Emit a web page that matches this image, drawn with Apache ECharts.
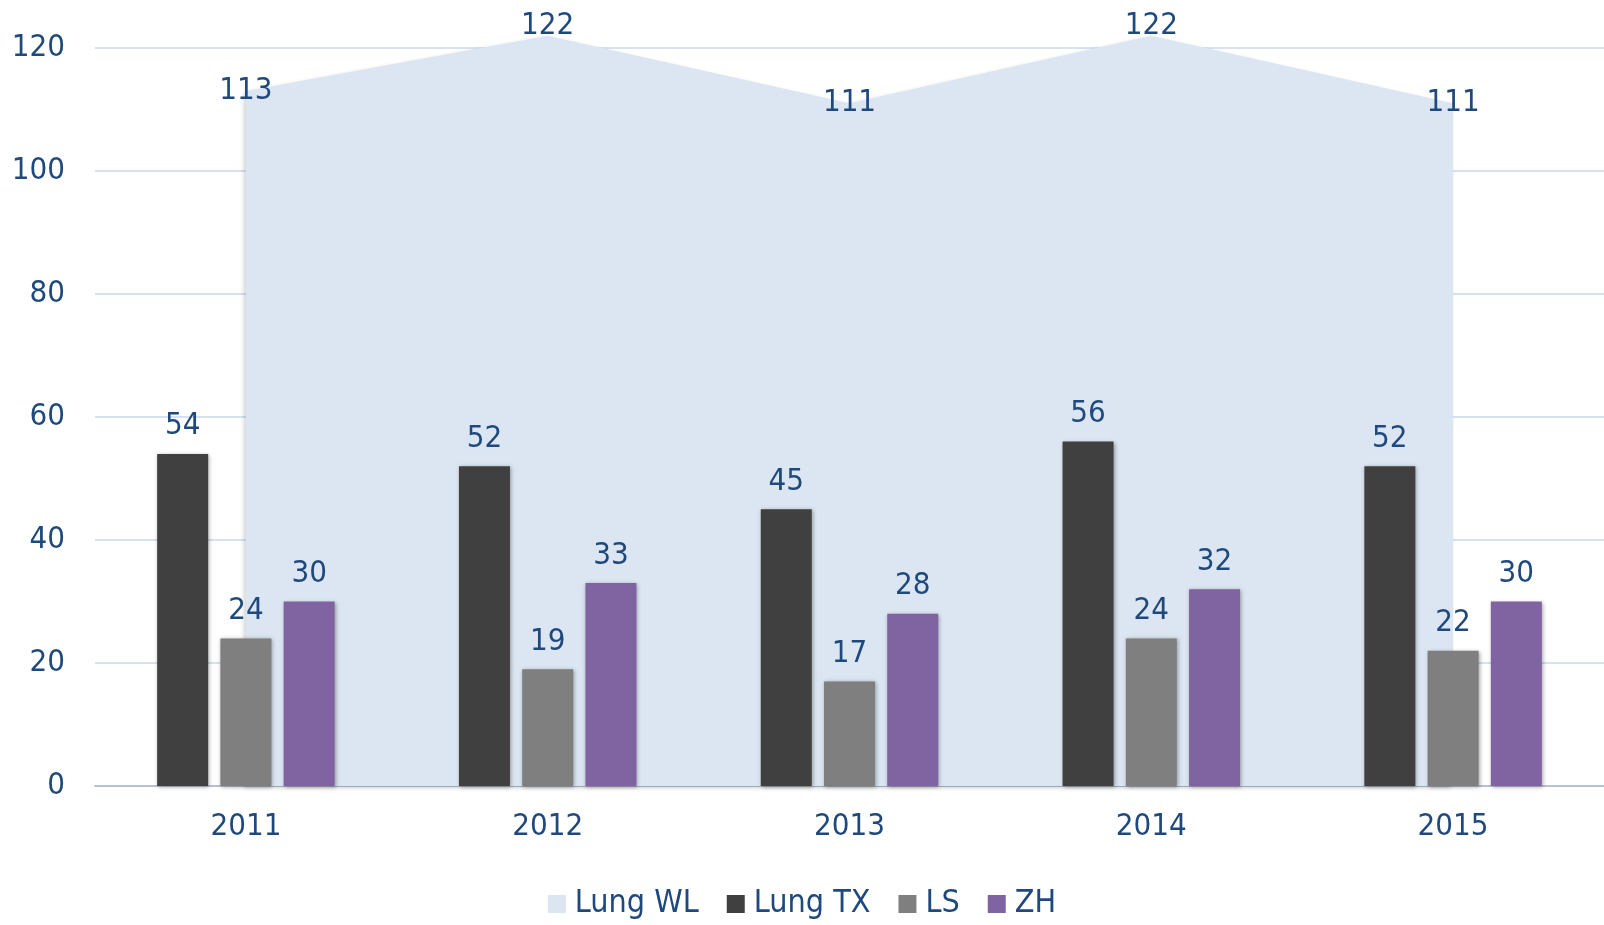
<!DOCTYPE html>
<html>
<head>
<meta charset="utf-8">
<script src="https://cdn.jsdelivr.net/npm/echarts@6/dist/echarts.min.js"></script>
<style>
  html, body { margin: 0; padding: 0; background: #fff; }
  #chart { width: 1604px; height: 925px; }
</style>
</head>
<body>
<div id="chart"></div>
<script>
const years = ['2011', '2012', '2013', '2014', '2015'];
const lungWL = [113, 122, 111, 122, 111];
const lungTX = [54, 52, 45, 56, 52];
const ls = [24, 19, 17, 24, 22];
const zh = [30, 33, 28, 32, 30];

// label nudges for the area series (122 sits above the axis max)
const wlLabelOffsetY = [0, -10, 0, -10, 0];

const textColor = '#1f497d';
const font = '"DejaVu Sans Condensed", "DejaVu Sans"';

const chart = echarts.init(document.getElementById('chart'));

const barLabel = {
    show: true,
    position: 'top',
    distance: 12,
    color: textColor,
    fontFamily: font,
    fontSize: 31
};
const barShadow = {
    shadowColor: 'rgba(0,0,0,0.35)',
    shadowBlur: 4,
    shadowOffsetX: 1,
    shadowOffsetY: 1
};

const options = {
    animation: false,
    grid: {
        left: 95,
        right: 0,
        top: 48,
        bottom: 139
    },
    legend: {
        top: 883,
        left: 'center',
        icon: 'rect',
        itemWidth: 18,
        itemHeight: 18,
        itemGap: 28,
        textStyle: {
            color: textColor,
            fontFamily: font,
            fontSize: 32,
            padding: [0, 0, 0, 4]
        },
        data: ['Lung WL', 'Lung TX', 'LS', 'ZH']
    },
    xAxis: {
        type: 'category',
        data: years,
        axisTick: {show: false},
        axisLine: {lineStyle: {color: '#b7c3d4', width: 2}},
        axisLabel: {
            color: textColor,
            fontFamily: font,
            fontSize: 31,
            margin: 25
        }
    },
    yAxis: {
        type: 'value',
        min: 0,
        max: 120,
        interval: 20,
        axisLine: {show: false},
        axisTick: {show: false},
        splitLine: {lineStyle: {color: '#d6e2f0', width: 2}},
        axisLabel: {
            color: textColor,
            fontFamily: font,
            fontSize: 31,
            margin: 30
        }
    },
    series: [
        {
            name: 'Lung WL',
            type: 'line',
            clip: false,
            data: lungWL.map((v, i) => ({
                value: v,
                label: {offset: [0, wlLabelOffsetY[i]]}
            })),
            symbol: 'circle',
            symbolSize: 0.1,
            itemStyle: {color: '#dce6f2'},
            lineStyle: {width: 0, color: '#dce6f2'},
            areaStyle: {
                color: '#dce6f2',
                opacity: 1,
                shadowColor: 'rgba(0,0,0,0.18)',
                shadowBlur: 4,
                shadowOffsetX: -2,
                shadowOffsetY: 2
            },
            label: {
                show: true,
                position: 'inside',
                color: textColor,
                fontFamily: font,
                fontSize: 31
            },
            z: 1
        },
        {
            name: 'Lung TX',
            type: 'bar',
            data: lungTX,
            barWidth: 51,
            barGap: '24%',
            itemStyle: Object.assign({color: '#404040'}, barShadow),
            label: barLabel,
            z: 3
        },
        {
            name: 'LS',
            type: 'bar',
            data: ls,
            barWidth: 51,
            barGap: '24%',
            itemStyle: Object.assign({color: '#7f7f7f'}, barShadow),
            label: barLabel,
            z: 3
        },
        {
            name: 'ZH',
            type: 'bar',
            data: zh,
            barWidth: 51,
            barGap: '24%',
            itemStyle: Object.assign({color: '#8064a2'}, barShadow),
            label: barLabel,
            z: 3
        }
    ]
};

chart.setOption(options);
</script>
</body>
</html>
